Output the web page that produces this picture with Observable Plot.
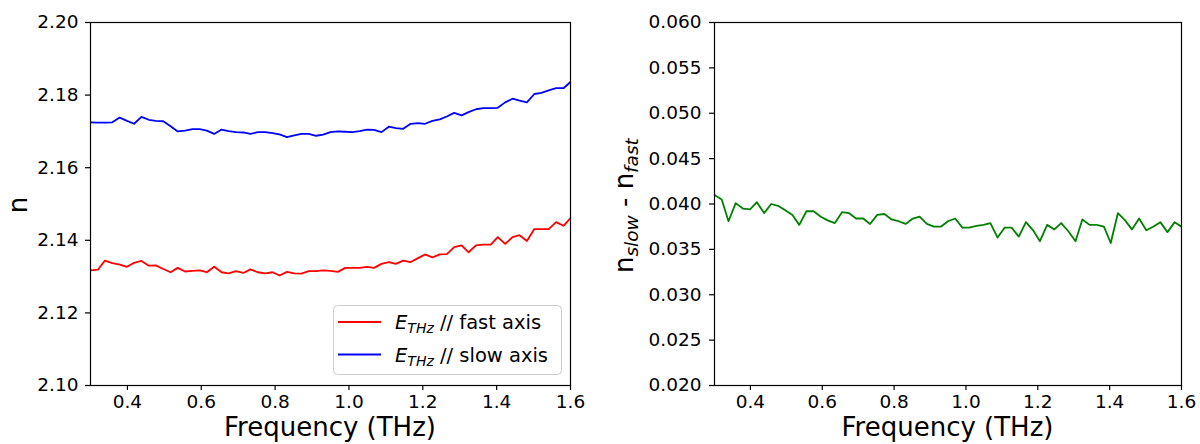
<!DOCTYPE html>
<html>
<head>
<meta charset="utf-8">
<script src="https://cdn.jsdelivr.net/npm/d3@7"></script>
<script src="https://cdn.jsdelivr.net/npm/@observablehq/plot@0.6"></script>
<style>
  html, body { margin: 0; padding: 0; background: #fff; }
  #wrap { position: relative; width: 1200px; height: 444px; overflow: hidden; font-family: "DejaVu Sans", sans-serif; }
  #left { position: absolute; left: 0; top: 0; }
  #right { position: absolute; left: 600px; top: 0; }
</style>
</head>
<body>
<div id="wrap"><div id="left"></div><div id="right"></div></div>
<script>
// Frequency grid (THz)
const freq = [0.300,0.320,0.339,0.359,0.379,0.399,0.418,0.438,0.458,0.477,
  0.497,0.517,0.536,0.556,0.576,0.596,0.615,0.635,0.655,0.674,
  0.694,0.714,0.733,0.753,0.773,0.793,0.812,0.832,0.852,0.871,
  0.891,0.911,0.930,0.950,0.970,0.990,1.009,1.029,1.049,1.068,
  1.088,1.108,1.127,1.147,1.167,1.187,1.206,1.226,1.246,1.265,
  1.285,1.305,1.324,1.344,1.364,1.384,1.403,1.423,1.443,1.462,
  1.482,1.502,1.521,1.541,1.561,1.581,1.600];

// Refractive index, E_THz // fast axis
const nFast = [2.1317,2.1319,2.1344,2.1337,2.1333,2.1327,2.1338,2.1343,2.1330,2.1331,
  2.1321,2.1312,2.1324,2.1314,2.1316,2.1317,2.1312,2.1327,2.1312,2.1309,
  2.1315,2.1310,2.1320,2.1312,2.1309,2.1312,2.1303,2.1313,2.1309,2.1308,
  2.1315,2.1315,2.1317,2.1316,2.1313,2.1324,2.1324,2.1324,2.1327,2.1324,
  2.1335,2.1340,2.1335,2.1344,2.1340,2.1351,2.1361,2.1353,2.1361,2.1362,
  2.1381,2.1386,2.1367,2.1386,2.1388,2.1388,2.1409,2.1390,2.1409,2.1414,
  2.1398,2.1431,2.1431,2.1431,2.1450,2.1440,2.1461];

// Refractive index, E_THz // slow axis
const nSlow = [2.1725,2.1724,2.1724,2.1725,2.1738,2.1729,2.1721,2.1740,2.1732,2.1729,
  2.1728,2.1714,2.1700,2.1702,2.1706,2.1706,2.1702,2.1693,2.1705,2.1701,
  2.1698,2.1697,2.1693,2.1698,2.1698,2.1695,2.1692,2.1684,2.1689,2.1693,
  2.1693,2.1688,2.1691,2.1698,2.1700,2.1699,2.1698,2.1701,2.1705,2.1704,
  2.1698,2.1713,2.1709,2.1707,2.1721,2.1723,2.1721,2.1729,2.1733,2.1741,
  2.1751,2.1744,2.1753,2.1761,2.1764,2.1764,2.1765,2.1780,2.1790,2.1785,
  2.1780,2.1803,2.1806,2.1813,2.1819,2.1819,2.1836];

// Birefringence n_slow - n_fast
const nDiff = [0.0410,0.0405,0.0381,0.0401,0.0395,0.0394,0.0402,0.0390,0.0400,0.0398,
  0.0393,0.0388,0.0377,0.0392,0.0392,0.0386,0.0382,0.0379,0.0391,0.0390,
  0.0384,0.0384,0.0378,0.0388,0.0389,0.0383,0.0381,0.0378,0.0384,0.0386,
  0.0378,0.0375,0.0375,0.0381,0.0384,0.0374,0.0374,0.0376,0.0377,0.0379,
  0.0363,0.0374,0.0374,0.0364,0.0380,0.0371,0.0359,0.0377,0.0372,0.0379,
  0.0370,0.0359,0.0383,0.0377,0.0377,0.0375,0.0357,0.0390,0.0382,0.0372,
  0.0384,0.0371,0.0375,0.0380,0.0369,0.0380,0.0375];

const xTicks = [0.4, 0.6, 0.8, 1.0, 1.2, 1.4, 1.6];
const yTicksLeft = [2.10, 2.12, 2.14, 2.16, 2.18, 2.20];
const yTicksRight = [0.020, 0.025, 0.030, 0.035, 0.040, 0.045, 0.050, 0.055, 0.060];
const xLabel = "Frequency (THz)";
const legendLabels = ["fast axis", "slow axis"];
const seriesColors = ["#ff0000", "#0000ff"];

const fastRows = freq.map((f, i) => ({f, n: nFast[i]}));
const slowRows = freq.map((f, i) => ({f, n: nSlow[i]}));
const diffRows = freq.map((f, i) => ({f, d: nDiff[i]}));

const FONT = "DejaVu Sans";
const TICK_FS = 18.5;
const LABEL_FS = 26;

function commonAxes(yTicks, yFmt, yPad) {
  return [
    Plot.axisX(xTicks, {tickSize: 5, tickPadding: 4, tickFormat: d3.format(".1f"), label: null, fontSize: TICK_FS, stroke: "black", strokeWidth: 1.2}),
    Plot.axisY(yTicks, {tickSize: 5, tickPadding: yPad, tickFormat: d3.format(yFmt), label: null, fontSize: TICK_FS, stroke: "black", strokeWidth: 1.2}),
    Plot.frame({stroke: "black", strokeWidth: 1.2})
  ];
}

const left = Plot.plot({
  width: 600, height: 444,
  marginLeft: 90, marginRight: 30, marginTop: 22, marginBottom: 59,
  x: {domain: [0.3, 1.6]},
  y: {domain: [2.10, 2.20]},
  style: {fontFamily: FONT, color: "black", background: "white", fontSize: TICK_FS + "px"},
  marks: [
    Plot.lineY(fastRows, {x: "f", y: "n", stroke: seriesColors[0], strokeWidth: 1.8, clip: true}),
    Plot.lineY(slowRows, {x: "f", y: "n", stroke: seriesColors[1], strokeWidth: 1.8, clip: true}),
    ...commonAxes(yTicksLeft, ".2f", 7)
  ]
});

const right = Plot.plot({
  width: 600, height: 444,
  marginLeft: 114, marginRight: 19, marginTop: 22, marginBottom: 59,
  x: {domain: [0.3, 1.6]},
  y: {domain: [0.020, 0.060]},
  style: {fontFamily: FONT, color: "black", background: "white", fontSize: TICK_FS + "px"},
  marks: [
    Plot.lineY(diffRows, {x: "f", y: "d", stroke: "#008000", strokeWidth: 1.8, clip: true}),
    ...commonAxes(yTicksRight, ".3f", 8)
  ]
});

document.getElementById("left").appendChild(left);
document.getElementById("right").appendChild(right);

// Axis titles
function addText(svg, x, y, txt, opts = {}) {
  const t = d3.select(svg).append("text")
    .attr("x", x).attr("y", y)
    .attr("font-family", FONT).attr("font-size", opts.size || LABEL_FS)
    .attr("fill", "black").attr("text-anchor", opts.anchor || "middle");
  if (opts.rotate) t.attr("transform", `rotate(-90 ${x} ${y})`);
  if (txt) t.text(txt);
  return t;
}
addText(left, 330, 436, xLabel);
addText(right, 347.5, 436, xLabel);
addText(left, 27, 205, "n", {rotate: true});

// right y label: n_slow - n_fast
const yl = addText(right, 33, 273, null, {rotate: true, anchor: "start"});
yl.append("tspan").text("n");
yl.append("tspan").attr("font-size", 18.5).attr("font-style", "italic").attr("dy", 5).text("slow");
yl.append("tspan").attr("dy", -5).text(" - n");
yl.append("tspan").attr("font-size", 18.5).attr("font-style", "italic").attr("dy", 5).text("fast");

// Legend (left panel)
const lg = d3.select(left).append("g").attr("text-anchor", "start");
lg.append("rect").attr("x", 333.5).attr("y", 305.5).attr("width", 228).attr("height", 69)
  .attr("rx", 4).attr("fill", "white").attr("fill-opacity", 0.85).attr("stroke", "#cccccc").attr("stroke-width", 1);
[0, 1].forEach(i => {
  const cy = 322 + i * 32.5;
  lg.append("line").attr("x1", 338).attr("x2", 381).attr("y1", cy).attr("y2", cy)
    .attr("stroke", seriesColors[i]).attr("stroke-width", 1.8);
  const t = lg.append("text").attr("x", 395).attr("y", cy + 7).attr("text-anchor", "start")
    .attr("font-family", FONT).attr("font-size", 19.5).attr("fill", "black");
  t.append("tspan").attr("font-style", "italic").text("E");
  t.append("tspan").attr("font-style", "italic").attr("font-size", 14).attr("dy", 4).text("THz");
  t.append("tspan").attr("dy", -4).text(" // " + legendLabels[i]);
});
</script>
</body>
</html>
